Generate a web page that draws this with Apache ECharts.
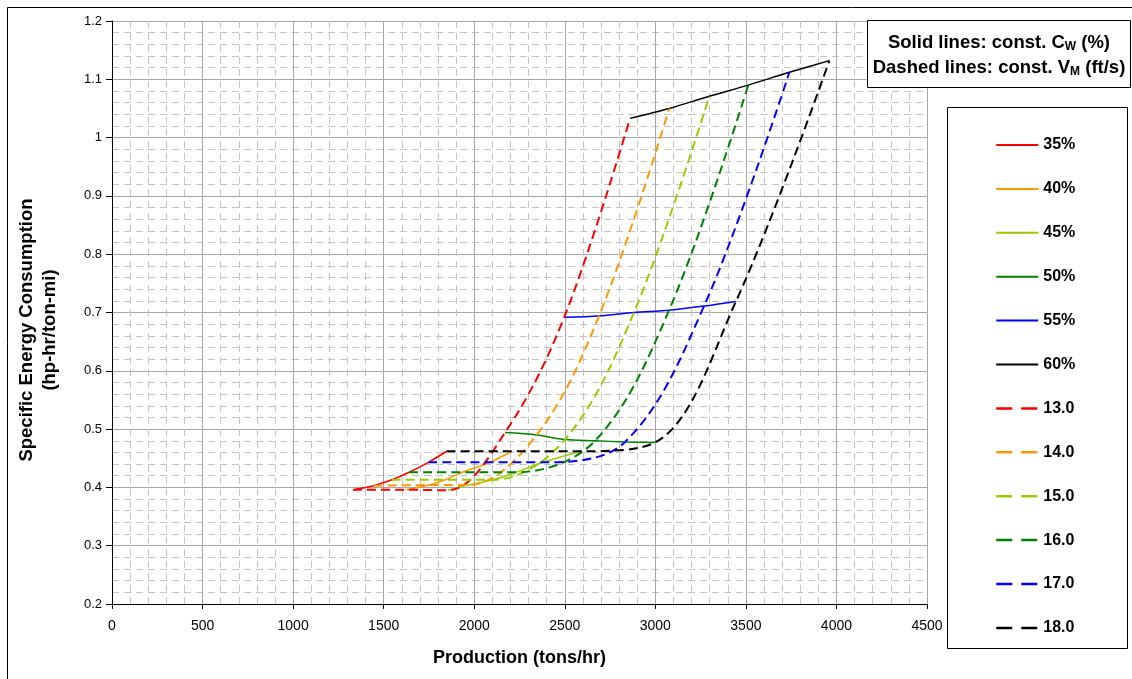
<!DOCTYPE html>
<html>
<head>
<meta charset="utf-8">
<script src="https://cdn.jsdelivr.net/npm/echarts@6/dist/echarts.min.js"></script>
<style>
html,body{margin:0;padding:0;background:#fff;}
#chart{width:1132px;height:679px;}
</style>
</head>
<body>
<div id="chart"></div>
<script>
// Constant concentration (Cw) labels and constant velocity (Vm) labels
const cwLabels = ['35%', '40%', '45%', '50%', '55%', '60%'];
const vmLabels = ['13.0', '14.0', '15.0', '16.0', '17.0', '18.0'];
const xTicks = [0, 500, 1000, 1500, 2000, 2500, 3000, 3500, 4000, 4500];
const yTicks = [0.2, 0.3, 0.4, 0.5, 0.6, 0.7, 0.8, 0.9, 1.0, 1.1, 1.2];

// Production (tons/hr) for each Cw, one value per Vm (13..18 ft/s)
const prod35 = [1331, 1445, 1545, 1641, 1747, 1848];
const prod40 = [1625, 1750, 1840, 1935, 2087, 2207];
const prod45 = [1855, 1966, 2105, 2231, 2380, 2590];
const prod50 = [2170, 2345, 2501, 2667, 2833, 2998];
const prod55 = [2497, 2689, 2882, 3076, 3269, 3445];
const prod60 = [2860, 3077, 3298, 3513, 3740, 3961];

// Specific energy consumption (hp-hr/ton-mi) for each Cw, per Vm
const sec35 = [0.396, 0.403, 0.413, 0.426, 0.443, 0.462];
const sec40 = [0.396, 0.404, 0.413, 0.426, 0.443, 0.462];
const sec45 = [0.395, 0.404, 0.413, 0.426, 0.443, 0.462];
const sec50 = [0.494, 0.490, 0.482, 0.480, 0.478, 0.477];
const sec55 = [0.692, 0.694, 0.700, 0.704, 0.711, 0.719];
const sec60 = [1.033, 1.050, 1.071, 1.090, 1.112, 1.132];

const colors = ['#FF0000', '#FF9900', '#99CC00', '#008000', '#0000FF', '#000000'];

const prodByCw = [prod35, prod40, prod45, prod50, prod55, prod60];
const secByCw = [sec35, sec40, sec45, sec50, sec55, sec60];

const FONT = '"Liberation Sans", Arial, sans-serif';

const series = [];
// Solid lines: constant Cw
cwLabels.forEach((name, i) => {
  series.push({
    name: name,
    type: 'line',
    data: prodByCw[i].map((x, j) => [x, secByCw[i][j]]),
    smooth: 0.3,
    symbol: 'none',
    showSymbol: false,
    lineStyle: { color: colors[i], width: 1.5, type: 'solid' },
    itemStyle: { color: colors[i] },
    emphasis: { disabled: true },
    z: 3
  });
});
// Dashed lines: constant Vm
vmLabels.forEach((name, j) => {
  series.push({
    name: name,
    type: 'line',
    data: cwLabels.map((c, i) => [prodByCw[i][j], secByCw[i][j]]),
    smooth: 0.35,
    symbol: 'none',
    showSymbol: false,
    lineStyle: { color: colors[j], width: 2, type: [9, 5] },
    itemStyle: { color: colors[j] },
    emphasis: { disabled: true },
    z: 4
  });
});

const legendData = cwLabels.map(n => ({ name: n }))
  .concat(vmLabels.map(n => ({ name: n, lineStyle: { type: [16, 9], width: 2.5 } })));

const chart = echarts.init(document.getElementById('chart'), null, { renderer: 'canvas' });
chart.setOption({
  animation: false,
  backgroundColor: '#ffffff',
  textStyle: { fontFamily: FONT },
  grid: { left: 112, top: 21, right: 205, bottom: 75, containLabel: false },
  xAxis: {
    type: 'value',
    min: xTicks[0],
    max: xTicks[xTicks.length - 1],
    interval: 500,
    name: 'Production (tons/hr)',
    nameLocation: 'middle',
    nameGap: 45,
    nameTextStyle: { fontFamily: FONT, fontWeight: 'bold', fontSize: 18, color: '#000' },
    axisLine: { show: true, onZero: false, lineStyle: { color: '#000', width: 1 } },
    axisTick: { show: true, length: 5, inside: false, lineStyle: { color: '#000' } },
    axisLabel: { fontFamily: FONT, fontSize: 14, color: '#000', margin: 15, formatter: v => String(v) },
    splitLine: { show: true, lineStyle: { color: '#A6A6A6', width: 1 } },
    minorTick: { show: false, splitNumber: 5 },
    minorSplitLine: { show: true, lineStyle: { color: '#C4C4C4', width: 1, type: [7, 5] } }
  },
  yAxis: {
    type: 'value',
    min: yTicks[0],
    max: yTicks[yTicks.length - 1],
    interval: 0.1,
    axisLine: { show: true, onZero: false, lineStyle: { color: '#000', width: 1 } },
    axisTick: { show: true, length: 6, inside: false, lineStyle: { color: '#000' } },
    axisLabel: { fontFamily: FONT, fontSize: 13, color: '#000', margin: 10 },
    splitLine: { show: true, lineStyle: { color: '#A6A6A6', width: 1 } },
    minorTick: { show: false, splitNumber: 5 },
    minorSplitLine: { show: true, lineStyle: { color: '#C4C4C4', width: 1, type: [7, 5] } }
  },
  legend: {
    orient: 'vertical',
    left: 995,
    top: 137,
    padding: 0,
    itemWidth: 42,
    itemHeight: 14,
    itemGap: 27.9,
    data: legendData,
    selectedMode: false,
    itemStyle: { color: 'rgba(0,0,0,0)', borderWidth: 0, opacity: 0 },
    textStyle: { fontFamily: FONT, fontWeight: 'bold', fontSize: 16, color: '#000' }
  },
  graphic: [
    {
      type: 'rect', z: -10, silent: true,
      shape: { x: 7.5, y: 7.5, width: 1140, height: 700 },
      style: { fill: 'none', stroke: '#000', lineWidth: 1 }
    },
    {
      type: 'text', z: 11, silent: true,
      x: 38, y: 330, rotation: Math.PI / 2,
      style: {
        text: 'Specific Energy Consumption\n(hp-hr/ton-mi)',
        align: 'center', verticalAlign: 'middle',
        fontFamily: FONT, fontWeight: 'bold', fontSize: 18.5, lineHeight: 23, fill: '#000'
      }
    },
    {
      type: 'rect', z: 10, silent: true,
      shape: { x: 947.5, y: 107.5, width: 180, height: 541 },
      style: { fill: 'none', stroke: '#000', lineWidth: 1 }
    },
    {
      type: 'rect', z: 10, silent: true,
      shape: { x: 867.5, y: 20.5, width: 263, height: 67 },
      style: { fill: '#fff', stroke: '#000', lineWidth: 1 }
    },
    {
      type: 'text', z: 11, silent: true,
      x: 999, y: 43,
      style: {
        text: '{a|Solid lines: const. C}{s|W}{a| (%)}',
        align: 'center', verticalAlign: 'middle',
        rich: {
          a: { fontFamily: FONT, fontWeight: 'bold', fontSize: 18.5, fill: '#000', lineHeight: 22 },
          s: { fontFamily: FONT, fontWeight: 'bold', fontSize: 12, fill: '#000', lineHeight: 22, padding: [7, 0, 0, 0] }
        }
      }
    },
    {
      type: 'text', z: 11, silent: true,
      x: 999, y: 68,
      style: {
        text: '{a|Dashed lines: const. V}{s|M}{a| (ft/s)}',
        align: 'center', verticalAlign: 'middle',
        rich: {
          a: { fontFamily: FONT, fontWeight: 'bold', fontSize: 18.5, fill: '#000', lineHeight: 22 },
          s: { fontFamily: FONT, fontWeight: 'bold', fontSize: 12, fill: '#000', lineHeight: 22, padding: [7, 0, 0, 0] }
        }
      }
    }
  ],
  series: series
});
</script>
</body>
</html>
